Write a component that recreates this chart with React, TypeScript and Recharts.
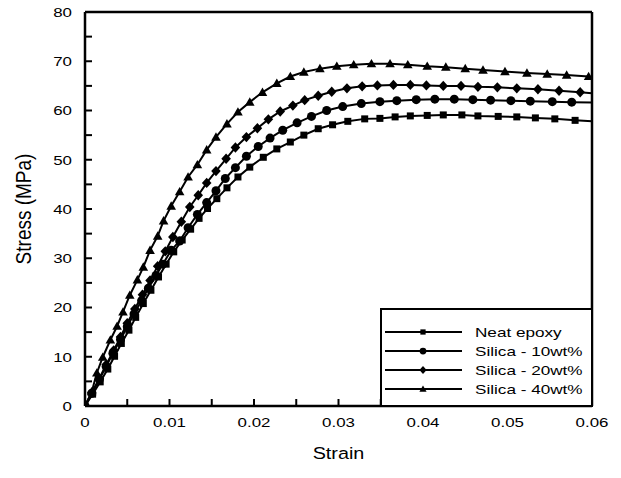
import React from "react";
import { LineChart, Line, XAxis, YAxis, ReferenceLine } from "recharts";

// stress-strain curves (strain in mm/mm, stress in MPa)
const neatStrain = [
  0, 0.0009, 0.0018, 0.0027, 0.0035, 0.0043, 0.0052, 0.006, 0.0069, 0.0078, 0.0087, 0.0096,
  0.0105, 0.0115, 0.0125, 0.0135, 0.0145, 0.0156, 0.0168, 0.0181, 0.0195, 0.0211, 0.0227,
  0.0243, 0.0259, 0.0276, 0.0293, 0.0311, 0.0331, 0.0349, 0.0367, 0.0385, 0.0405, 0.0424,
  0.0446, 0.0465, 0.0489, 0.0511, 0.0533, 0.0556, 0.058, 0.06,
];
const neatStress = [
  0, 2.4, 4.9, 7.5, 10.1, 12.7, 15.4, 18.0, 20.8, 23.5, 26.2, 28.8,
  31.3, 33.7, 35.9, 38.1, 40.1, 42.1, 44.3, 46.5, 48.5, 50.5, 52.2,
  53.6, 55.0, 56.3, 57.1, 57.8, 58.3, 58.4, 58.7, 58.9, 59.0, 59.1,
  59.1, 58.9, 58.8, 58.7, 58.5, 58.3, 58.0, 57.8,
];

const silica10Strain = [
  0, 0.0008, 0.0017, 0.0025, 0.0033, 0.0042, 0.005, 0.0058, 0.0067, 0.0075, 0.0084, 0.0092,
  0.0102, 0.0112, 0.0122, 0.0133, 0.0144, 0.0155, 0.0166, 0.0178, 0.0191, 0.0205, 0.0219,
  0.0234, 0.0251, 0.0268, 0.0286, 0.0305, 0.0327, 0.0349, 0.0369, 0.0392, 0.0414, 0.0437,
  0.0459, 0.048, 0.0504, 0.0527, 0.0553, 0.0576, 0.06,
];
const silica10Stress = [
  0, 2.6, 5.4, 8.0, 10.7, 13.5, 16.1, 18.7, 21.4, 23.9, 26.5, 28.8,
  31.6, 33.5, 36.2, 38.9, 41.3, 43.7, 46.2, 48.4, 50.7, 52.7, 54.4,
  56.0, 57.5, 58.8, 60.0, 60.8, 61.4, 61.8, 62.0, 62.2, 62.3, 62.3,
  62.2, 62.1, 62.0, 61.9, 61.8, 61.7, 61.6,
];

const silica20Strain = [
  0, 0.0008, 0.0017, 0.0025, 0.0034, 0.0042, 0.005, 0.0059, 0.0068, 0.0077, 0.0086, 0.0095,
  0.0104, 0.0114, 0.0124, 0.0134, 0.0144, 0.0155, 0.0167, 0.0178, 0.0191, 0.0204, 0.0217,
  0.0231, 0.0246, 0.026, 0.0276, 0.0292, 0.031, 0.0328, 0.0346, 0.0365, 0.0385, 0.0404,
  0.0424, 0.0445, 0.0465, 0.0488, 0.0511, 0.0536, 0.0561, 0.0586, 0.06,
];
const silica20Stress = [
  0, 2.7, 5.6, 8.4, 11.3, 14.0, 16.8, 19.7, 22.6, 25.5, 28.4, 31.4,
  34.3, 37.4, 40.4, 42.8, 45.3, 47.7, 50.2, 52.5, 54.6, 56.4, 58.2,
  59.8, 61.0, 62.1, 63.0, 63.8, 64.5, 64.9, 65.1, 65.2, 65.2, 65.1,
  65.0, 65.0, 64.8, 64.7, 64.5, 64.3, 64.0, 63.7, 63.5,
];

const silica40Strain = [
  0, 0.0008, 0.0014, 0.0021, 0.003, 0.0038, 0.0045, 0.0053, 0.0062, 0.0069, 0.0077, 0.0086,
  0.0093, 0.0102, 0.0112, 0.0122, 0.0133, 0.0144, 0.0155, 0.0168, 0.0181, 0.0195, 0.021,
  0.0227, 0.0243, 0.0259, 0.0278, 0.0298, 0.0318, 0.0339, 0.0361, 0.0382, 0.0405, 0.0427,
  0.045, 0.0471, 0.0497, 0.0523, 0.0547, 0.057, 0.0596, 0.06,
];
const silica40Stress = [
  0, 2.9, 6.7, 9.9, 13.4, 16.2, 19.1, 22.5, 25.6, 28.2, 31.6, 34.5,
  37.6, 40.6, 43.5, 46.5, 49.0, 52.0, 54.6, 57.3, 59.7, 61.7, 63.7,
  65.5, 66.9, 67.8, 68.5, 69.0, 69.3, 69.5, 69.5, 69.3, 69.0, 68.8,
  68.5, 68.2, 67.9, 67.6, 67.4, 67.2, 66.9, 66.8,
];

const seriesNames = ["Neat epoxy", "Silica - 10wt%", "Silica - 20wt%", "Silica - 40wt%"];
const seriesShapes = ["square", "circle", "diamond", "triangle"];

const xTicks = [0, 0.005, 0.01, 0.015, 0.02, 0.025, 0.03, 0.035, 0.04, 0.045, 0.05, 0.055, 0.06];
const xTickLabels = ["0", "", "0.01", "", "0.02", "", "0.03", "", "0.04", "", "0.05", "", "0.06"];
const yTicks = [0, 5, 10, 15, 20, 25, 30, 35, 40, 45, 50, 55, 60, 65, 70, 75, 80];
const yTickLabels = ["0", "", "10", "", "20", "", "30", "", "40", "", "50", "", "60", "", "70", "", "80"];

const W = 621;
const H = 478;
const PLOT_LEFT = 85;
const PLOT_RIGHT = 592;
const PLOT_TOP = 12;
const PLOT_BOTTOM = 406;
const FONT = '"Liberation Sans", Arial, Helvetica, sans-serif';
const STRETCH = 1.25; // the source figure is stretched sideways
const X_MAX = 0.06;

const toPoints = (xs: number[], ys: number[]) => xs.map((x, i) => ({ strain: x, stress: ys[i] }));

const series = [
  { name: seriesNames[0], shape: seriesShapes[0], data: toPoints(neatStrain, neatStress) },
  { name: seriesNames[1], shape: seriesShapes[1], data: toPoints(silica10Strain, silica10Stress) },
  { name: seriesNames[2], shape: seriesShapes[2], data: toPoints(silica20Strain, silica20Stress) },
  { name: seriesNames[3], shape: seriesShapes[3], data: toPoints(silica40Strain, silica40Stress) },
];

function Marker({ cx, cy, shape, k = 1 }: { cx: number; cy: number; shape: string; k?: number }) {
  if (shape === "square") {
    const s = 7 * k;
    return <rect x={cx - s / 2} y={cy - s / 2} width={s} height={s} fill="#000" />;
  }
  if (shape === "circle") {
    return <circle cx={cx} cy={cy} r={4.5 * k} fill="#000" />;
  }
  if (shape === "diamond") {
    const a = 4.8 * k;
    const b = 5.2 * k;
    return <polygon points={`${cx},${cy - b} ${cx + a},${cy} ${cx},${cy + b} ${cx - a},${cy}`} fill="#000" />;
  }
  const h = 4.8 * k;
  return (
    <polygon points={`${cx},${cy - h} ${cx + 4.8 * k},${cy + h * 0.75} ${cx - 4.8 * k},${cy + h * 0.75}`} fill="#000" />
  );
}

function XTick(props: any) {
  const { x, payload } = props;
  const label = xTickLabels[xTicks.indexOf(payload.value)];
  return (
    <g>
      <line x1={x} x2={x} y1={PLOT_BOTTOM} y2={PLOT_BOTTOM - 7} stroke="#000" strokeWidth={2} />
      {label ? (
        <text
          transform={`translate(${x} ${PLOT_BOTTOM + 21}) scale(${STRETCH} 1)`}
          textAnchor="middle"
          fontFamily={FONT}
          fontSize={13.5}
          fill="#000"
        >
          {label}
        </text>
      ) : null}
    </g>
  );
}

function YTick(props: any) {
  const { y, payload } = props;
  const label = yTickLabels[yTicks.indexOf(payload.value)];
  return (
    <g>
      <line x1={PLOT_LEFT} x2={PLOT_LEFT + 7} y1={y} y2={y} stroke="#000" strokeWidth={2} />
      {label ? (
        <text
          transform={`translate(${PLOT_LEFT - 13} ${y + 4.8}) scale(${STRETCH} 1)`}
          textAnchor="end"
          fontFamily={FONT}
          fontSize={13.5}
          fill="#000"
        >
          {label}
        </text>
      ) : null}
    </g>
  );
}

function LegendBox() {
  const rowY = [24, 43, 62, 81];
  return (
    <svg
      width={213}
      height={99}
      style={{ position: "absolute", left: PLOT_RIGHT - 212, top: PLOT_BOTTOM - 98, pointerEvents: "none" }}
    >
      <rect x={1} y={1} width={211} height={97} fill="#fff" stroke="#000" strokeWidth={2} />
      {series.map((s, i) => (
        <g key={s.name}>
          <line x1={5} x2={82} y1={rowY[i]} y2={rowY[i]} stroke="#000" strokeWidth={2} />
          <Marker cx={43} cy={rowY[i]} shape={s.shape} k={0.75} />
          <text
            transform={`translate(95 ${rowY[i] + 4.8}) scale(1.27 1)`}
            fontFamily={FONT}
            fontSize={13.5}
            fill="#000"
          >
            {s.name}
          </text>
        </g>
      ))}
    </svg>
  );
}

export default function App() {
  return (
    <div style={{ position: "absolute", left: 0, top: 0, width: W, height: H, background: "#fff" }}>
      <LineChart
        width={W}
        height={H}
        margin={{ top: PLOT_TOP, right: W - PLOT_RIGHT, left: PLOT_LEFT - 60, bottom: H - PLOT_BOTTOM - 30 }}
      >
        <XAxis
          type="number"
          dataKey="strain"
          domain={[0, X_MAX]}
          ticks={xTicks}
          interval={0}
          tickLine={false}
          tick={<XTick />}
          height={30}
          axisLine={{ stroke: "#000", strokeWidth: 2.5 }}
          allowDataOverflow
        />
        <YAxis
          type="number"
          domain={[0, 80]}
          ticks={yTicks}
          interval={0}
          tickLine={false}
          tick={<YTick />}
          width={60}
          axisLine={{ stroke: "#000", strokeWidth: 2.5 }}
          allowDataOverflow
        />
        <ReferenceLine y={80} stroke="#000" strokeWidth={2.5} />
        <ReferenceLine x={X_MAX} stroke="#000" strokeWidth={2.5} />
        {series.map((s) => (
          <Line
            key={s.name}
            data={s.data}
            dataKey="stress"
            name={s.name}
            type="linear"
            stroke="#000"
            strokeWidth={2}
            isAnimationActive={false}
            activeDot={false}
            dot={(p: any) =>
              p.payload.strain >= X_MAX ? (
                <g key={`${s.shape}-${p.index}`} />
              ) : (
                <Marker key={`${s.shape}-${p.index}`} cx={p.cx} cy={p.cy} shape={s.shape} />
              )
            }
          />
        ))}
      </LineChart>
      <svg width={W} height={H} style={{ position: "absolute", left: 0, top: 0, pointerEvents: "none" }}>
        <text
          transform={`translate(${(PLOT_LEFT + PLOT_RIGHT) / 2} 459) scale(1.2 1)`}
          textAnchor="middle"
          fontFamily={FONT}
          fontSize={16.5}
          fill="#000"
        >
          Strain
        </text>
        <text
          transform={`translate(31 ${(PLOT_TOP + PLOT_BOTTOM) / 2}) rotate(-90) scale(1 1.2)`}
          textAnchor="middle"
          fontFamily={FONT}
          fontSize={19}
          fill="#000"
        >
          Stress (MPa)
        </text>
      </svg>
      <LegendBox />
    </div>
  );
}
